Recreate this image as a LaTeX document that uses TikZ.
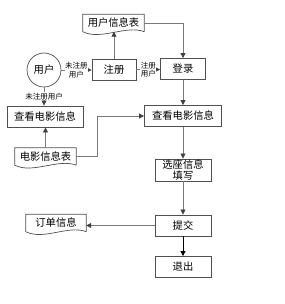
\documentclass[tikz,border=0pt]{standalone}
\usepackage{fontspec}
\setmainfont{Noto Sans CJK SC}
\usetikzlibrary{arrows.meta,calc}
\definecolor{boxgray}{HTML}{505050}
\definecolor{linegray}{HTML}{7A7A7A}
\definecolor{tipgray}{HTML}{404040}
\begin{document}
\begin{tikzpicture}[x=1pt,y=-1pt,
  box/.style={draw=boxgray, line width=0.9pt, inner sep=0pt, minimum height=21pt, font=\fontsize{10.3}{11}\selectfont},
  docnode/.style={inner sep=0pt, minimum height=17pt, font=\fontsize{10.3}{11}\selectfont},
  docline/.style={draw=boxgray, line width=0.7pt},
  conn/.style={draw=linegray, line width=0.8pt},
  arr/.style={conn, -{Triangle[length=5pt,width=5pt,color=tipgray]}},
  lbl/.style={fill=white, inner sep=0.5pt, font=\fontsize{7.5}{8.5}\selectfont, align=center}
]
\useasboundingbox (0,0) rectangle (284,304);

% nodes
\node[draw=boxgray, line width=0.7pt, circle, minimum size=34pt, inner sep=0pt, font=\fontsize{10.3}{11}\selectfont] (user) at (44,70) {用户};
\node[box, minimum width=44pt] (zhuce) at (114,69.5) {注册};
\node[docnode, minimum width=61pt] (userTable) at (113.5,23) {用户信息表};
\node[box, minimum width=45pt] (denglu) at (183,69) {登录};
\node[box, minimum width=76pt] (chakanL) at (45,116.5) {查看电影信息};
\node[box, minimum width=77pt] (chakanR) at (183,116) {查看电影信息};
\node[docnode, minimum width=61pt] (movieTable) at (45.5,156.5) {电影信息表};
\node[box, minimum width=56pt, minimum height=22pt, align=center, font=\fontsize{10.3}{11}\selectfont] (xuanzuo) at (183,170) {选座信息\\填写};
\node[box, minimum width=56pt] (tijiao) at (183,225.5) {提交};
\node[box, minimum width=56pt] (tuichu) at (183,267) {退出};
\node[docnode, minimum width=60pt] (order) at (56,223) {订单信息};

% document outlines
\foreach \d in {userTable, movieTable, order} {
  \draw[docline] (\d.south east) -- (\d.north east) -- (\d.north west) -- (\d.south west)
    .. controls +(18,9) and +(-18,-7) .. (\d.south east);
}

% connectors
\coordinate (bend) at (97,0);
\draw[arr] (zhuce.north) -- (zhuce.north |- userTable.south);
\draw[arr] (userTable.east) -| (denglu.north);
\draw[arr] (user.east) -- (user.east -| zhuce.west) node[lbl, pos=0.5] {未注册\\用户};
\draw[arr] (zhuce.east) -- (zhuce.east -| denglu.west) node[lbl, pos=0.5] {注册\\用户};
\draw[arr] (user.south) -- (user.south |- chakanL.north) node[lbl, pos=0.5] {未注册用户};
\draw[arr] (movieTable.north) -- (movieTable.north |- chakanL.south);
\draw[arr] (movieTable.east) -| (bend |- chakanR.west) -- (chakanR.west);
\draw[arr] (denglu.south) -- (chakanR.north);
\draw[arr] (chakanR.south) -- (xuanzuo.north);
\draw[arr] (xuanzuo.south) -- (tijiao.north);
\draw[arr] (tijiao.west) -- (tijiao.west -| order.east);
\draw[draw=black, line width=1pt, -{Triangle[length=5pt,width=5pt,color=black]}] (tijiao.south) -- (tuichu.north);
\end{tikzpicture}
\end{document}
